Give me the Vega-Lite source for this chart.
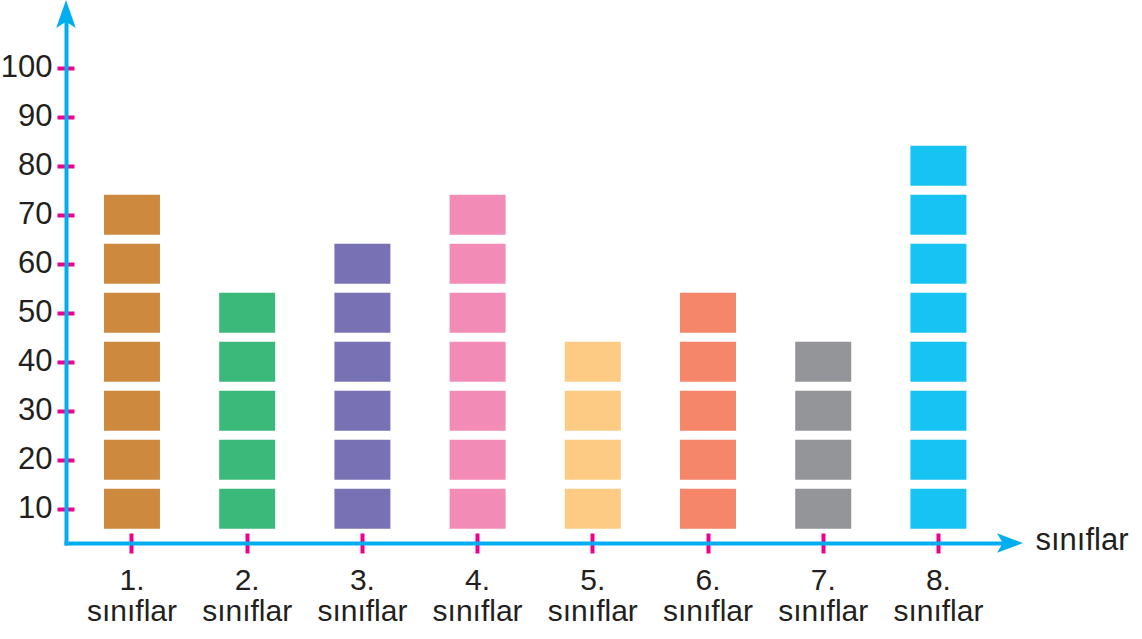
{
  "$schema": "https://vega.github.io/schema/vega-lite/v6.json",
  "width": 944,
  "height": 529,
  "autosize": {"type": "none"},
  "padding": {"left": 66, "top": 14, "right": 132, "bottom": 96},
  "background": "white",
  "config": {"view": {"stroke": null}},
  "resolve": {"scale": {"x": "independent"}},
  "layer": [
    {
      "data": {"values": [
        {"sinif": "1", "deger": 10}, {"sinif": "1", "deger": 20}, {"sinif": "1", "deger": 30}, {"sinif": "1", "deger": 40}, {"sinif": "1", "deger": 50}, {"sinif": "1", "deger": 60}, {"sinif": "1", "deger": 70},
        {"sinif": "2", "deger": 10}, {"sinif": "2", "deger": 20}, {"sinif": "2", "deger": 30}, {"sinif": "2", "deger": 40}, {"sinif": "2", "deger": 50},
        {"sinif": "3", "deger": 10}, {"sinif": "3", "deger": 20}, {"sinif": "3", "deger": 30}, {"sinif": "3", "deger": 40}, {"sinif": "3", "deger": 50}, {"sinif": "3", "deger": 60},
        {"sinif": "4", "deger": 10}, {"sinif": "4", "deger": 20}, {"sinif": "4", "deger": 30}, {"sinif": "4", "deger": 40}, {"sinif": "4", "deger": 50}, {"sinif": "4", "deger": 60}, {"sinif": "4", "deger": 70},
        {"sinif": "5", "deger": 10}, {"sinif": "5", "deger": 20}, {"sinif": "5", "deger": 30}, {"sinif": "5", "deger": 40},
        {"sinif": "6", "deger": 10}, {"sinif": "6", "deger": 20}, {"sinif": "6", "deger": 30}, {"sinif": "6", "deger": 40}, {"sinif": "6", "deger": 50},
        {"sinif": "7", "deger": 10}, {"sinif": "7", "deger": 20}, {"sinif": "7", "deger": 30}, {"sinif": "7", "deger": 40},
        {"sinif": "8", "deger": 10}, {"sinif": "8", "deger": 20}, {"sinif": "8", "deger": 30}, {"sinif": "8", "deger": 40}, {"sinif": "8", "deger": 50}, {"sinif": "8", "deger": 60}, {"sinif": "8", "deger": 70}, {"sinif": "8", "deger": 80}
      ]},
      "mark": {"type": "tick", "size": 56, "thickness": 40, "opacity": 1},
      "encoding": {
        "x": {
          "field": "sinif", "type": "nominal",
          "scale": {"type": "band", "paddingInner": 0.5, "paddingOuter": 0.347, "align": 0.465},
          "axis": {
            "title": "sınıflar",
            "titleFont": "Liberation Sans",
            "titleFontSize": 31, "titleFontWeight": "normal", "titleColor": "#231F20",
            "titleAlign": "left", "titleBaseline": "middle", "titleAnchor": "start",
            "titleX": 969, "titleY": -3, "titleAngle": 0,
            "domainColor": "#00AEEF", "domainWidth": 4, "domainCap": "square",
            "ticks": true, "tickColor": "#EC008C", "tickWidth": 4, "tickSize": 10, "bandPosition": 0.5,
            "grid": true, "gridColor": "#EC008C", "gridWidth": 4, "gridDash": [10, 3000], "gridDashOffset": 2491,
            "labelAngle": 0,
            "labelExpr": "[datum.label + '.', 'sınıflar']",
            "labelFont": "Liberation Sans",
            "labelFontSize": 30, "labelColor": "#231F20", "labelLineHeight": 31,
            "labelPadding": 12, "labelBaseline": "top"
          }
        },
        "y": {
          "field": "deger", "type": "quantitative",
          "scale": {"domain": [3, 111], "nice": false, "zero": false},
          "axis": {
            "title": null,
            "values": [10, 20, 30, 40, 50, 60, 70, 80, 90, 100],
            "domainColor": "#00AEEF", "domainWidth": 4, "domainCap": "square",
            "tickColor": "#EC008C", "tickWidth": 4, "tickSize": 9,
            "grid": true, "gridColor": "#EC008C", "gridWidth": 4, "gridDash": [8, 3000],
            "labelFont": "Liberation Sans",
            "labelFontSize": 31, "labelColor": "#231F20", "labelPadding": 5
          }
        },
        "color": {
          "field": "sinif", "type": "nominal", "legend": null,
          "scale": {
            "domain": ["1", "2", "3", "4", "5", "6", "7", "8"],
            "range": ["#CD893E", "#3BB97A", "#7872B5", "#F28BB6", "#FDCB83", "#F5866A", "#939598", "#17C3F2"]
          }
        }
      }
    },
    {
      "data": {"values": [{"ok": "yukari"}]},
      "mark": {"type": "point", "filled": true, "opacity": 1, "color": "#00AEEF", "shape": "M0,-1L0.7,1L0,0.55L-0.7,1Z", "size": 784},
      "encoding": {
        "x": {"datum": 0, "type": "quantitative", "scale": {"domain": [0, 1], "nice": false, "zero": false}, "axis": null},
        "y": {"datum": 111, "type": "quantitative"}
      }
    },
    {
      "data": {"values": [{"ok": "sag"}]},
      "mark": {"type": "point", "filled": true, "opacity": 1, "color": "#00AEEF", "shape": "M1,0L-1,0.75L-0.55,0L-1,-0.75Z", "size": 676},
      "encoding": {
        "x": {"datum": 1, "type": "quantitative", "scale": {"domain": [0, 1], "nice": false, "zero": false}, "axis": null},
        "y": {"datum": 3, "type": "quantitative"}
      }
    }
  ]
}
